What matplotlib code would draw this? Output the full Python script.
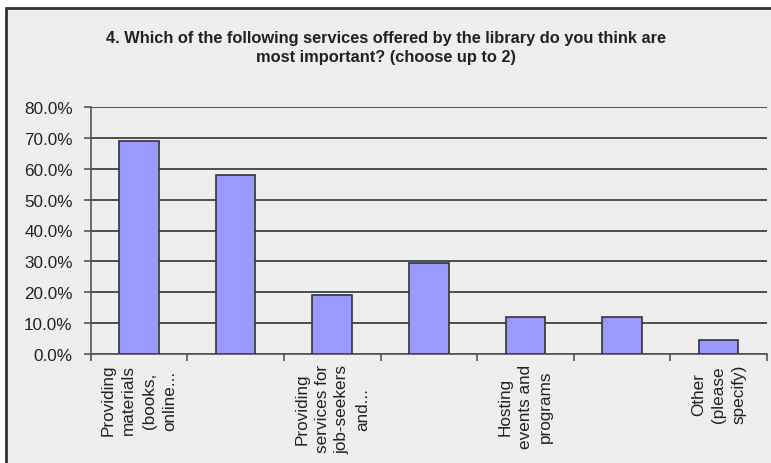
import numpy as np
import matplotlib.pyplot as plt
from matplotlib.patches import Rectangle

# Survey results
labels = ['Providing\nmaterials\n(books,\nonline...', '',
          'Providing\nservices for\njob-seekers\nand...', '',
          'Hosting\nevents and\nprograms', '',
          'Other\n(please\nspecify)']
percents = [68.9, 57.9, 19.2, 29.6, 12.1, 12.1, 4.6]
yticks = [0, 10, 20, 30, 40, 50, 60, 70, 80]

plt.rcParams['font.family'] = ['Liberation Sans', 'DejaVu Sans']

bg = '#eeeeee'
fig = plt.figure(figsize=(7.71, 4.64), dpi=100)
fig.patch.set_facecolor('white')

# chart frame, runs off the right and bottom edges
frame = Rectangle((6 / 771, -0.1), 1.1, 1.1 - 9 / 464,
                  transform=fig.transFigure, facecolor=bg,
                  edgecolor='#333333', linewidth=2, zorder=-5)
fig.add_artist(frame)

ax = fig.add_axes([90.7 / 771, 1 - 355 / 464, (767 - 90.7) / 771, (355 - 108) / 464])
ax.set_facecolor(bg)

x = np.arange(len(percents)) + 0.5
ax.bar(x, percents, width=0.41, color='#9999ff', edgecolor='#333333',
       linewidth=1.2, zorder=3)

ax.set_xlim(0, len(percents))
ax.set_ylim(0, 80)
ax.set_yticks(yticks)
ax.set_yticklabels([f'{v:.1f}%' for v in yticks], fontsize=12.3, color='#222222')
ax.yaxis.grid(True, color='#333333', linewidth=1.2, zorder=1)

ax.set_xticks(np.arange(len(percents) + 1))
ax.set_xticklabels([])
ax.set_xticks(x, minor=True)
ax.set_xticklabels(labels, minor=True, rotation=90, fontsize=12.3,
                   color='#222222', va='top', ha='center', multialignment='center',
                   linespacing=1.45)
ax.tick_params(axis='x', which='minor', length=0, pad=7)
ax.tick_params(axis='y', which='major', pad=8)
ax.tick_params(axis='both', which='major', length=5, width=1.2, color='#555555')

for side in ['top', 'right']:
    ax.spines[side].set_visible(False)
for side in ['left', 'bottom']:
    ax.spines[side].set_color('#555555')
    ax.spines[side].set_linewidth(1.2)

fig.text(0.5, 1 - 48 / 464,
         '4. Which of the following services offered by the library do you think are\n'
         'most important? (choose up to 2)',
         ha='center', va='center', fontsize=11.8, fontweight='bold',
         color='#222222', linespacing=1.35)

fig.savefig('out.png', dpi=100, facecolor='white')
